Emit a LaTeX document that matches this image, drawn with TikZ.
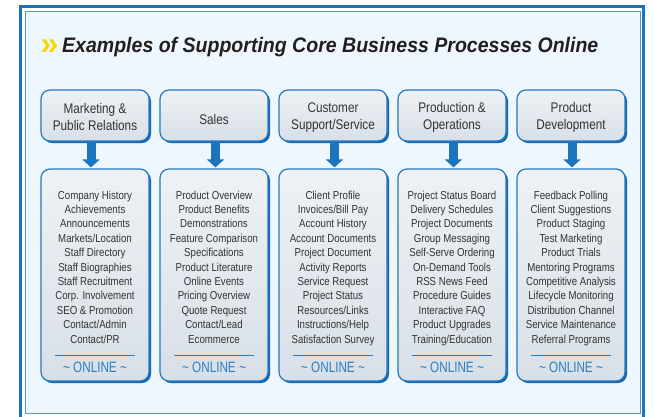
\documentclass[tikz,border=0pt]{standalone}
\usepackage{fontspec}
\setmainfont{Liberation Sans}
\newfontfamily\narrowfont[FakeStretch=0.84]{Liberation Sans}
\newfontfamily\onlinefont[FakeStretch=0.78]{Liberation Sans}
\newfontfamily\titlefont[FakeStretch=0.93]{Liberation Sans}
\usetikzlibrary{shadows,arrows.meta}

\definecolor{panelbg}{HTML}{EEF7FD}
\definecolor{frameblue}{HTML}{1C75BC}
\definecolor{boxedge}{HTML}{2479C0}
\definecolor{boxshadow}{HTML}{1466AE}
\definecolor{boxtop}{HTML}{EEF2F6}
\definecolor{boxbottom}{HTML}{D8DFE6}
\definecolor{itemtext}{HTML}{333333}
\definecolor{onlineblue}{HTML}{2A7EC3}
\definecolor{chevroncol}{HTML}{F4D800}
\definecolor{titleink}{HTML}{231F20}

\tikzset{
  procbox/.style={draw=boxedge, line width=1.2bp, rounded corners=9bp,
    top color=boxtop, bottom color=boxbottom,
    general shadow={fill=boxshadow, shadow xshift=2bp, shadow yshift=-2bp},
    minimum width=108bp, inner sep=0pt},
  headbox/.style={procbox, minimum height=51bp, align=center, text=itemtext,
    font=\narrowfont\fontsize{14bp}{17bp}\selectfont},
  listbox/.style={procbox, minimum height=212bp},
  itemlist/.style={align=center, text=itemtext, inner sep=0pt,
    font=\narrowfont\fontsize{11.5bp}{14.4bp}\selectfont},
  onlinetag/.style={text=onlineblue, inner sep=0pt,
    font=\onlinefont\fontsize{15bp}{17bp}\selectfont},
  onlinerule/.style={draw=onlineblue, line width=1bp},
  downarrow/.style={draw=frameblue, line width=9bp,
    -{Triangle[width=17bp,length=8bp]}},
}

% one process column: header box, arrow, list box with items and the online tag
% #1 index, #2 centre x, #3 arrow offset, #4 header options, #5 header, #6 items
\newcommand\proccolumn[6]{%
  \node[headbox,#4] (head#1) at (#2,115.5) {\rule{0pt}{13.2bp}#5};
  \node[listbox] (list#1) at (#2,275) {};
  \node[itemlist, anchor=north] (items#1) at (#2,190.5) {#6};
  \draw[onlinerule] (#2-40,355) -- (#2+40,355);
  \node[onlinetag] (online#1) at (#2,367.8) {\textasciitilde\ ONLINE \textasciitilde};
  \draw[downarrow] ([xshift=#3]head#1.south) -- ([xshift=#3,yshift=1bp]list#1.north);
}

\begin{document}
\begin{tikzpicture}[x=1bp,y=-1bp]
  \useasboundingbox (0,0) rectangle (654,416);
  \fill[white] (0,0) rectangle (654,416);
  \begin{scope}
    \clip (0,0) rectangle (654,416);
    % double frame round the panel
    \draw[frameblue, line width=3bp] (20.5,6.5) rectangle (643.5,422);
    \draw[frameblue!75, line width=0.9bp, fill=panelbg] (25.5,11.5) rectangle (640,413);
  \end{scope}

  % heading
  \node[anchor=base west, inner sep=0pt, text=chevroncol,
    font=\bfseries\fontsize{32bp}{32bp}\selectfont] (chevron) at (40.5,54.5) {»};
  \node[anchor=base west, inner sep=0pt, text=titleink,
    font=\titlefont\bfseries\itshape\fontsize{21bp}{25bp}\selectfont] (title) at (62,52)
    {Examples of Supporting Core Business Processes Online};

  \proccolumn{1}{95}{-4bp}{}{Marketing \&\\Public Relations}
    {Company History\\Achievements\\Announcements\\Markets/Location\\Staff Directory\\
     Staff Biographies\\Staff Recruitment\\Corp. Involvement\\SEO \& Promotion\\
     Contact/Admin\\Contact/PR}
  \proccolumn{2}{214}{1.5bp}{text height=19bp}{Sales}
    {Product Overview\\Product Benefits\\Demonstrations\\Feature Comparison\\
     Specifications\\Product Literature\\Online Events\\Pricing Overview\\
     Quote Request\\Contact/Lead\\Ecommerce}
  \proccolumn{3}{333}{1.5bp}{}{Customer\\Support/Service}
    {Client Profile\\Invoices/Bill Pay\\Account History\\Account Documents\\
     Project Document\\Activity Reports\\Service Request\\Project Status\\
     Resources/Links\\Instructions/Help\\Satisfaction Survey}
  \proccolumn{4}{452}{1.5bp}{}{Production \&\\Operations}
    {Project Status Board\\Delivery Schedules\\Project Documents\\Group Messaging\\
     Self-Serve Ordering\\On-Demand Tools\\RSS News Feed\\Procedure Guides\\
     Interactive FAQ\\Product Upgrades\\Training/Education}
  \proccolumn{5}{571}{1bp}{}{Product\\Development}
    {Feedback Polling\\Client Suggestions\\Product Staging\\Test Marketing\\
     Product Trials\\Mentoring Programs\\Competitive Analysis\\Lifecycle Monitoring\\
     Distribution Channel\\Service Maintenance\\Referral Programs}
\end{tikzpicture}
\end{document}
